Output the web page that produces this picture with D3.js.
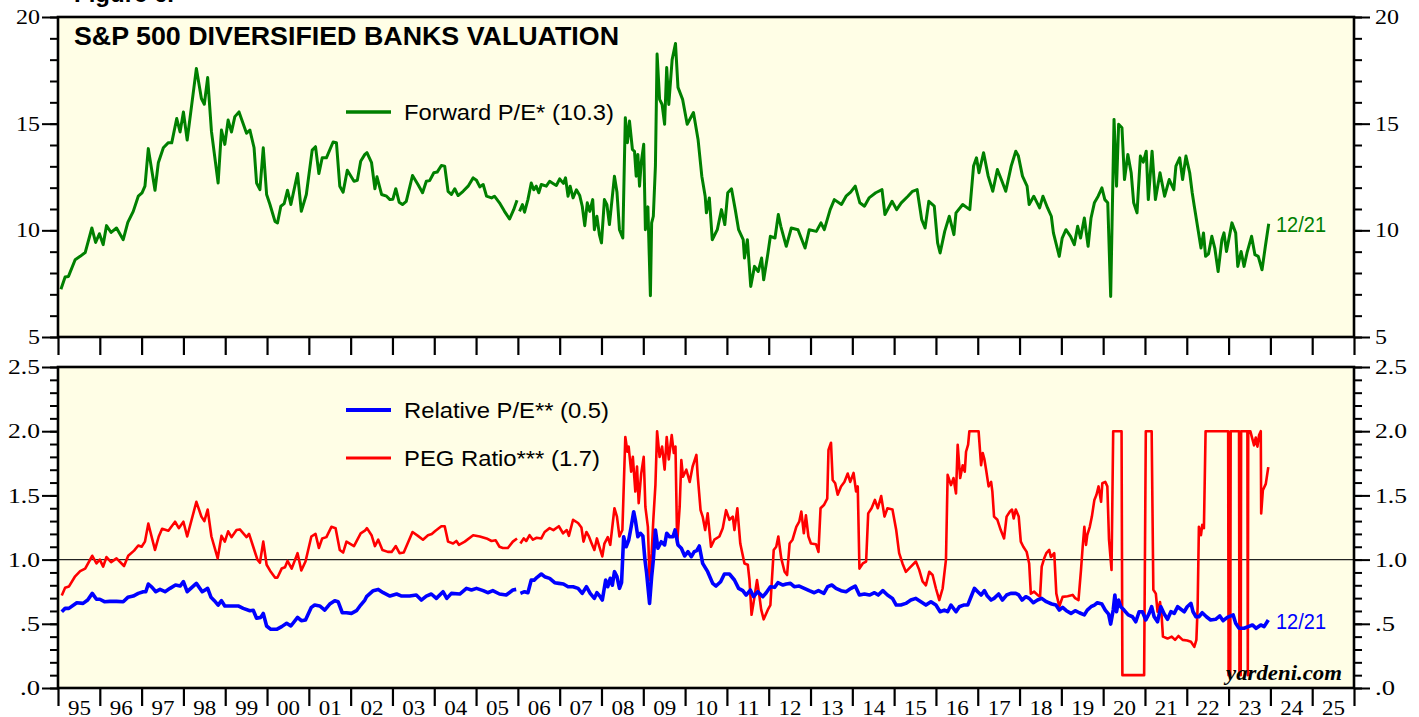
<!DOCTYPE html>
<html>
<head>
<meta charset="utf-8">
<script src="https://d3js.org/d3.v7.min.js"></script>
<style>
  body { margin: 0; background: #fff; }
  svg { display: block; }
</style>
</head>
<body>
<div id="chart"></div>
<script>
// values: [decimal year, value]; null marks the gap in early 2006
var forwardPE = [[1995.07,7.24],[1995.17,7.81],[1995.25,7.84],[1995.41,8.62],[1995.53,8.78],[1995.65,8.96],[1995.81,10.11],[1995.90,9.43],[1995.99,9.84],[1996.08,9.33],[1996.16,10.22],[1996.27,9.90],[1996.40,10.11],[1996.56,9.56],[1996.67,10.37],[1996.80,10.89],[1996.92,11.60],[1997.01,11.76],[1997.08,12.07],[1997.16,13.83],[1997.32,11.88],[1997.40,13.17],[1997.52,13.87],[1997.64,14.11],[1997.72,14.10],[1997.84,15.24],[1997.92,14.61],[1998.00,15.55],[1998.09,14.23],[1998.31,17.59],[1998.43,16.18],[1998.50,15.91],[1998.58,17.16],[1998.67,14.65],[1998.83,12.22],[1998.91,14.70],[1998.99,14.03],[1999.07,15.17],[1999.15,14.61],[1999.23,15.33],[1999.33,15.55],[1999.51,14.55],[1999.59,14.70],[1999.69,13.87],[1999.75,12.22],[1999.83,11.91],[1999.91,13.87],[1999.99,11.68],[2000.07,11.21],[2000.19,10.42],[2000.25,10.35],[2000.33,11.13],[2000.41,11.25],[2000.49,11.88],[2000.57,11.21],[2000.73,12.66],[2000.82,10.89],[2000.94,11.68],[2001.08,13.76],[2001.16,13.92],[2001.24,12.66],[2001.32,13.40],[2001.42,13.40],[2001.58,14.14],[2001.66,14.11],[2001.74,12.07],[2001.82,11.79],[2001.92,12.82],[2002.08,12.30],[2002.16,12.35],[2002.24,13.24],[2002.34,13.56],[2002.39,13.64],[2002.50,13.17],[2002.58,11.95],[2002.63,12.51],[2002.74,11.68],[2002.86,11.60],[2002.94,11.44],[2003.01,11.46],[2003.08,11.95],[2003.16,11.32],[2003.24,11.21],[2003.33,11.36],[2003.48,12.57],[2003.61,12.15],[2003.72,11.76],[2003.81,12.30],[2003.89,12.33],[2003.99,12.70],[2004.07,12.73],[2004.17,13.04],[2004.25,13.01],[2004.33,11.83],[2004.41,11.68],[2004.49,11.95],[2004.57,11.63],[2004.69,11.83],[2004.81,12.07],[2004.93,12.46],[2005.01,12.35],[2005.09,12.04],[2005.17,12.15],[2005.25,11.60],[2005.37,11.52],[2005.44,11.60],[2005.56,11.29],[2005.68,10.89],[2005.80,10.53],[2005.90,10.97],[2005.98,11.41],[2006.01,null],[2006.04,10.89],[2006.11,11.21],[2006.16,10.85],[2006.24,11.44],[2006.32,12.22],[2006.38,11.90],[2006.44,12.07],[2006.50,11.76],[2006.56,12.15],[2006.68,12.07],[2006.76,12.30],[2006.84,12.20],[2006.92,12.10],[2007.00,12.41],[2007.09,12.20],[2007.14,12.46],[2007.20,11.60],[2007.25,12.07],[2007.32,11.52],[2007.40,11.90],[2007.48,11.63],[2007.54,11.13],[2007.60,10.22],[2007.66,11.29],[2007.72,10.89],[2007.79,11.44],[2007.83,10.03],[2007.89,10.66],[2007.95,9.80],[2008.00,9.41],[2008.07,11.44],[2008.13,11.20],[2008.19,10.27],[2008.31,12.54],[2008.37,11.80],[2008.43,10.03],[2008.51,9.64],[2008.57,15.28],[2008.62,14.11],[2008.67,15.12],[2008.74,13.79],[2008.79,13.70],[2008.83,12.54],[2008.87,13.56],[2008.91,12.07],[2008.95,13.17],[2009.01,14.03],[2009.05,10.03],[2009.11,11.10],[2009.17,6.93],[2009.20,10.35],[2009.24,10.66],[2009.29,13.01],[2009.33,18.26],[2009.39,16.14],[2009.45,15.90],[2009.51,14.97],[2009.56,17.63],[2009.61,15.90],[2009.69,18.00],[2009.77,18.76],[2009.83,16.70],[2009.94,16.14],[2010.05,14.97],[2010.20,15.52],[2010.31,14.26],[2010.40,12.54],[2010.48,11.60],[2010.51,10.82],[2010.58,11.52],[2010.65,9.56],[2010.77,10.03],[2010.87,10.97],[2010.95,10.27],[2011.02,11.76],[2011.11,11.95],[2011.20,10.97],[2011.28,10.03],[2011.39,9.56],[2011.42,8.70],[2011.49,9.56],[2011.57,7.37],[2011.66,8.31],[2011.75,8.07],[2011.83,8.70],[2011.88,7.68],[2011.97,8.78],[2012.04,9.72],[2012.15,9.64],[2012.23,10.74],[2012.29,10.19],[2012.42,9.25],[2012.54,10.11],[2012.70,10.03],[2012.87,9.17],[2012.97,10.03],[2013.14,9.95],[2013.25,10.35],[2013.33,10.03],[2013.47,10.97],[2013.57,11.44],[2013.74,11.21],[2013.85,11.60],[2013.96,11.79],[2014.07,12.07],[2014.18,11.29],[2014.29,11.13],[2014.40,11.52],[2014.56,11.76],[2014.71,11.91],[2014.78,10.74],[2014.95,11.36],[2015.06,10.97],[2015.17,11.29],[2015.33,11.60],[2015.44,11.83],[2015.55,11.91],[2015.66,10.50],[2015.74,10.11],[2015.83,11.36],[2015.96,11.13],[2016.04,9.41],[2016.10,8.94],[2016.21,9.95],[2016.32,10.66],[2016.43,9.80],[2016.48,10.82],[2016.64,11.21],[2016.81,10.97],[2016.90,13.01],[2016.97,13.40],[2017.03,12.70],[2017.14,13.64],[2017.25,12.54],[2017.36,11.83],[2017.47,12.85],[2017.58,12.30],[2017.67,11.83],[2017.80,13.01],[2017.91,13.71],[2017.97,13.50],[2018.07,12.54],[2018.18,12.07],[2018.23,11.21],[2018.34,11.60],[2018.48,11.05],[2018.56,11.60],[2018.67,11.05],[2018.76,10.66],[2018.81,9.88],[2018.95,8.78],[2019.02,9.64],[2019.11,10.03],[2019.22,9.72],[2019.31,9.33],[2019.39,10.19],[2019.46,9.64],[2019.55,10.58],[2019.64,9.25],[2019.71,10.58],[2019.79,11.29],[2019.88,11.60],[2019.97,11.99],[2020.04,11.44],[2020.11,11.29],[2020.18,6.90],[2020.26,15.20],[2020.32,12.07],[2020.37,14.97],[2020.45,14.81],[2020.51,12.38],[2020.59,13.56],[2020.67,12.70],[2020.73,11.29],[2020.81,10.82],[2020.89,13.48],[2020.96,13.20],[2021.03,13.71],[2021.08,11.44],[2021.17,13.71],[2021.25,11.44],[2021.36,12.70],[2021.47,11.60],[2021.58,12.38],[2021.69,11.91],[2021.74,13.01],[2021.83,13.40],[2021.90,12.38],[2021.98,13.48],[2022.07,12.70],[2022.13,11.76],[2022.18,11.13],[2022.27,10.03],[2022.34,9.17],[2022.40,9.88],[2022.45,8.78],[2022.52,8.90],[2022.60,9.72],[2022.67,9.17],[2022.75,8.07],[2022.84,9.56],[2022.89,9.88],[2022.95,9.01],[2023.08,10.35],[2023.17,9.88],[2023.22,8.31],[2023.30,9.01],[2023.37,8.31],[2023.44,8.94],[2023.55,9.72],[2023.63,8.86],[2023.71,8.78],[2023.80,8.15],[2023.88,9.25],[2023.96,10.31]];

var relativePE = [[1995.09,0.594],[1995.17,0.62],[1995.26,0.62],[1995.45,0.664],[1995.60,0.659],[1995.71,0.685],[1995.82,0.737],[1995.92,0.691],[1996.00,0.691],[1996.11,0.672],[1996.24,0.675],[1996.40,0.675],[1996.56,0.672],[1996.67,0.706],[1996.80,0.716],[1996.92,0.737],[1997.04,0.75],[1997.10,0.75],[1997.16,0.81],[1997.25,0.784],[1997.34,0.75],[1997.44,0.768],[1997.56,0.75],[1997.68,0.776],[1997.81,0.802],[1997.92,0.794],[1998.00,0.828],[1998.09,0.75],[1998.31,0.815],[1998.45,0.75],[1998.58,0.776],[1998.66,0.706],[1998.74,0.68],[1998.83,0.646],[1998.91,0.68],[1998.99,0.639],[1999.15,0.639],[1999.31,0.639],[1999.43,0.62],[1999.59,0.602],[1999.67,0.605],[1999.75,0.543],[1999.85,0.55],[1999.91,0.581],[1999.99,0.483],[2000.09,0.457],[2000.23,0.457],[2000.35,0.478],[2000.47,0.504],[2000.57,0.483],[2000.73,0.55],[2000.82,0.524],[2000.92,0.53],[2001.06,0.628],[2001.14,0.646],[2001.26,0.639],[2001.38,0.607],[2001.50,0.654],[2001.62,0.68],[2001.70,0.672],[2001.80,0.586],[2001.90,0.586],[2002.02,0.581],[2002.14,0.602],[2002.24,0.646],[2002.34,0.685],[2002.38,0.711],[2002.54,0.758],[2002.66,0.768],[2002.78,0.742],[2002.94,0.716],[2003.10,0.732],[2003.22,0.716],[2003.41,0.716],[2003.57,0.724],[2003.69,0.685],[2003.81,0.716],[2003.93,0.732],[2004.05,0.698],[2004.21,0.75],[2004.30,0.698],[2004.41,0.737],[2004.61,0.732],[2004.77,0.776],[2004.89,0.763],[2005.01,0.776],[2005.17,0.758],[2005.28,0.742],[2005.40,0.758],[2005.56,0.732],[2005.72,0.724],[2005.88,0.763],[2005.96,0.768],[2006.01,null],[2006.06,0.737],[2006.16,0.75],[2006.24,0.742],[2006.32,0.841],[2006.39,0.84],[2006.46,0.862],[2006.56,0.888],[2006.64,0.867],[2006.76,0.854],[2006.88,0.82],[2006.98,0.815],[2007.09,0.81],[2007.20,0.789],[2007.32,0.789],[2007.44,0.776],[2007.54,0.737],[2007.64,0.789],[2007.73,0.737],[2007.83,0.698],[2007.89,0.742],[2007.97,0.711],[2008.02,0.685],[2008.10,0.841],[2008.15,0.789],[2008.21,0.854],[2008.26,0.80],[2008.31,0.906],[2008.37,0.867],[2008.43,0.776],[2008.48,0.82],[2008.53,1.178],[2008.59,1.10],[2008.65,1.15],[2008.71,1.256],[2008.77,1.373],[2008.81,1.308],[2008.87,1.178],[2008.93,1.205],[2008.99,1.184],[2009.04,0.997],[2009.08,0.893],[2009.15,0.659],[2009.20,0.867],[2009.24,0.997],[2009.29,1.231],[2009.35,1.088],[2009.43,1.139],[2009.51,1.114],[2009.56,1.205],[2009.63,1.178],[2009.71,1.178],[2009.76,1.231],[2009.83,1.114],[2009.91,1.088],[2009.99,1.028],[2010.07,1.062],[2010.15,1.023],[2010.22,1.062],[2010.28,1.07],[2010.34,1.106],[2010.42,0.971],[2010.54,0.906],[2010.66,0.815],[2010.74,0.794],[2010.85,0.828],[2010.94,0.888],[2011.06,0.888],[2011.18,0.841],[2011.28,0.776],[2011.38,0.758],[2011.46,0.724],[2011.56,0.763],[2011.64,0.711],[2011.74,0.75],[2011.86,0.711],[2011.94,0.742],[2012.04,0.789],[2012.14,0.784],[2012.22,0.82],[2012.34,0.802],[2012.42,0.81],[2012.52,0.815],[2012.61,0.789],[2012.73,0.794],[2012.85,0.776],[2012.97,0.758],[2013.09,0.742],[2013.19,0.758],[2013.32,0.737],[2013.41,0.789],[2013.51,0.802],[2013.61,0.776],[2013.73,0.758],[2013.85,0.75],[2013.97,0.776],[2014.07,0.794],[2014.17,0.724],[2014.29,0.732],[2014.41,0.724],[2014.53,0.742],[2014.62,0.724],[2014.73,0.758],[2014.84,0.724],[2014.96,0.698],[2015.05,0.646],[2015.16,0.646],[2015.28,0.659],[2015.40,0.685],[2015.52,0.698],[2015.64,0.672],[2015.76,0.646],[2015.88,0.672],[2016.00,0.646],[2016.10,0.594],[2016.20,0.607],[2016.28,0.594],[2016.36,0.646],[2016.48,0.594],[2016.56,0.633],[2016.66,0.646],[2016.76,0.646],[2016.84,0.711],[2016.92,0.776],[2017.00,0.75],[2017.08,0.724],[2017.16,0.758],[2017.23,0.716],[2017.32,0.685],[2017.39,0.698],[2017.50,0.732],[2017.59,0.685],[2017.69,0.724],[2017.79,0.737],[2017.91,0.737],[2017.98,0.725],[2018.06,0.685],[2018.15,0.711],[2018.23,0.698],[2018.33,0.664],[2018.43,0.685],[2018.53,0.698],[2018.64,0.672],[2018.77,0.654],[2018.87,0.646],[2018.95,0.607],[2019.03,0.628],[2019.12,0.602],[2019.23,0.581],[2019.33,0.602],[2019.43,0.586],[2019.55,0.569],[2019.62,0.607],[2019.71,0.633],[2019.79,0.646],[2019.86,0.664],[2019.97,0.654],[2020.05,0.607],[2020.13,0.576],[2020.18,0.498],[2020.24,0.607],[2020.28,0.724],[2020.32,0.594],[2020.37,0.685],[2020.42,0.633],[2020.50,0.607],[2020.60,0.569],[2020.70,0.555],[2020.78,0.516],[2020.86,0.594],[2020.94,0.594],[2021.02,0.53],[2021.10,0.581],[2021.16,0.633],[2021.22,0.555],[2021.30,0.516],[2021.38,0.633],[2021.46,0.576],[2021.54,0.535],[2021.62,0.594],[2021.70,0.581],[2021.78,0.633],[2021.86,0.613],[2021.94,0.594],[2022.01,0.633],[2022.10,0.659],[2022.15,0.594],[2022.22,0.555],[2022.29,0.555],[2022.37,0.586],[2022.47,0.555],[2022.57,0.53],[2022.69,0.535],[2022.79,0.561],[2022.87,0.524],[2022.97,0.55],[2023.11,0.569],[2023.17,0.504],[2023.25,0.465],[2023.37,0.465],[2023.47,0.478],[2023.57,0.491],[2023.66,0.465],[2023.77,0.491],[2023.85,0.478],[2023.95,0.53]];

var pegRatio = [[1995.09,0.72],[1995.17,0.78],[1995.26,0.79],[1995.41,0.87],[1995.53,0.91],[1995.65,0.93],[1995.82,1.03],[1995.92,0.97],[1996.00,1.00],[1996.08,0.945],[1996.16,1.02],[1996.27,0.98],[1996.40,1.01],[1996.58,0.95],[1996.68,1.03],[1996.82,1.07],[1996.92,1.11],[1997.00,1.10],[1997.08,1.14],[1997.16,1.28],[1997.32,1.075],[1997.41,1.18],[1997.49,1.24],[1997.64,1.225],[1997.80,1.295],[1997.89,1.245],[1998.00,1.295],[1998.09,1.18],[1998.31,1.45],[1998.43,1.335],[1998.50,1.30],[1998.58,1.39],[1998.67,1.18],[1998.82,1.01],[1998.91,1.185],[1998.99,1.14],[1999.07,1.22],[1999.15,1.175],[1999.27,1.23],[1999.35,1.235],[1999.51,1.175],[1999.57,1.20],[1999.67,1.10],[1999.77,1.00],[1999.83,0.975],[1999.91,1.14],[1999.99,0.96],[2000.09,0.905],[2000.19,0.86],[2000.25,0.86],[2000.35,0.93],[2000.43,0.94],[2000.49,0.99],[2000.59,0.93],[2000.73,1.05],[2000.82,0.915],[2000.92,0.985],[2001.06,1.18],[2001.16,1.20],[2001.24,1.09],[2001.32,1.165],[2001.42,1.175],[2001.54,1.255],[2001.64,1.245],[2001.74,1.075],[2001.82,1.055],[2001.90,1.14],[2002.08,1.105],[2002.24,1.205],[2002.34,1.225],[2002.39,1.245],[2002.50,1.19],[2002.58,1.105],[2002.66,1.155],[2002.76,1.075],[2002.89,1.06],[2002.98,1.06],[2003.08,1.105],[2003.17,1.05],[2003.27,1.055],[2003.48,1.215],[2003.61,1.185],[2003.73,1.155],[2003.85,1.19],[2003.94,1.20],[2004.03,1.225],[2004.17,1.26],[2004.25,1.26],[2004.33,1.14],[2004.45,1.125],[2004.53,1.145],[2004.59,1.115],[2004.73,1.14],[2004.93,1.19],[2005.09,1.18],[2005.25,1.165],[2005.37,1.145],[2005.47,1.15],[2005.56,1.10],[2005.64,1.09],[2005.76,1.09],[2005.88,1.14],[2005.98,1.165],[2006.01,null],[2006.06,1.125],[2006.14,1.165],[2006.20,1.145],[2006.28,1.19],[2006.36,1.155],[2006.45,1.17],[2006.56,1.165],[2006.64,1.215],[2006.76,1.245],[2006.85,1.23],[2006.98,1.26],[2007.08,1.205],[2007.17,1.23],[2007.22,1.185],[2007.32,1.31],[2007.44,1.285],[2007.52,1.25],[2007.57,1.14],[2007.64,1.215],[2007.70,1.18],[2007.76,1.13],[2007.83,1.075],[2007.89,1.165],[2007.95,1.10],[2008.02,1.025],[2008.07,1.125],[2008.15,1.175],[2008.21,1.115],[2008.31,1.40],[2008.37,1.335],[2008.43,1.18],[2008.50,1.23],[2008.57,1.955],[2008.62,1.84],[2008.65,1.88],[2008.71,1.685],[2008.75,1.80],[2008.81,1.53],[2008.85,1.725],[2008.89,1.44],[2008.95,1.67],[2009.01,1.80],[2009.05,1.41],[2009.11,1.255],[2009.15,0.84],[2009.20,1.05],[2009.24,1.31],[2009.29,1.58],[2009.33,2.00],[2009.39,1.80],[2009.45,1.88],[2009.51,1.70],[2009.56,1.955],[2009.61,1.78],[2009.68,1.97],[2009.73,1.83],[2009.77,1.88],[2009.81,1.125],[2009.87,1.41],[2009.91,1.775],[2009.95,1.645],[2010.03,1.70],[2010.11,1.605],[2010.18,1.725],[2010.27,1.815],[2010.30,1.66],[2010.37,1.385],[2010.42,1.335],[2010.48,1.23],[2010.54,1.36],[2010.62,1.10],[2010.70,1.155],[2010.82,1.18],[2010.90,1.245],[2010.98,1.385],[2011.06,1.31],[2011.14,1.335],[2011.18,1.23],[2011.25,1.40],[2011.32,1.125],[2011.42,0.97],[2011.50,0.96],[2011.54,0.84],[2011.59,0.57],[2011.66,0.71],[2011.72,0.84],[2011.78,0.71],[2011.82,0.61],[2011.88,0.535],[2011.98,0.61],[2012.04,0.645],[2012.12,1.075],[2012.18,1.10],[2012.23,1.18],[2012.30,1.01],[2012.38,0.905],[2012.44,0.88],[2012.50,1.125],[2012.57,1.155],[2012.66,1.255],[2012.73,1.295],[2012.78,1.375],[2012.84,1.205],[2012.89,1.345],[2012.95,1.18],[2013.01,1.125],[2013.13,1.12],[2013.19,1.06],[2013.24,1.40],[2013.32,1.425],[2013.40,1.475],[2013.43,1.855],[2013.49,1.91],[2013.53,1.62],[2013.59,1.595],[2013.65,1.505],[2013.73,1.57],[2013.81,1.605],[2013.89,1.67],[2013.95,1.605],[2014.03,1.675],[2014.09,1.53],[2014.13,1.57],[2014.17,0.93],[2014.25,0.97],[2014.33,0.985],[2014.38,1.36],[2014.46,1.40],[2014.54,1.465],[2014.61,1.40],[2014.69,1.495],[2014.77,1.335],[2014.84,1.40],[2014.96,1.39],[2015.05,1.23],[2015.12,1.05],[2015.20,0.97],[2015.28,0.905],[2015.40,0.945],[2015.52,0.985],[2015.60,0.92],[2015.68,0.83],[2015.76,0.80],[2015.84,0.905],[2015.92,0.88],[2016.00,0.775],[2016.08,0.685],[2016.16,0.775],[2016.24,1.00],[2016.28,1.66],[2016.36,1.58],[2016.42,1.635],[2016.48,1.515],[2016.52,1.895],[2016.58,1.635],[2016.64,1.735],[2016.69,1.685],[2016.72,1.84],[2016.77,1.895],[2016.80,2.00],[2017.02,2.00],[2017.08,1.735],[2017.12,1.83],[2017.16,1.78],[2017.20,1.70],[2017.26,1.57],[2017.32,1.605],[2017.35,1.53],[2017.39,1.335],[2017.47,1.31],[2017.55,1.23],[2017.63,1.165],[2017.69,1.335],[2017.77,1.375],[2017.82,1.39],[2017.86,1.32],[2017.91,1.39],[2017.98,1.335],[2018.03,1.14],[2018.09,1.10],[2018.17,1.06],[2018.23,0.97],[2018.27,0.735],[2018.35,0.75],[2018.43,0.725],[2018.49,0.71],[2018.53,0.945],[2018.59,1.01],[2018.64,1.05],[2018.71,1.075],[2018.75,1.02],[2018.83,1.05],[2018.88,0.735],[2018.95,0.635],[2019.03,0.71],[2019.15,0.715],[2019.27,0.725],[2019.33,0.70],[2019.41,0.685],[2019.47,0.92],[2019.51,1.10],[2019.55,1.255],[2019.59,1.115],[2019.62,1.19],[2019.68,1.255],[2019.73,1.335],[2019.79,1.465],[2019.84,1.505],[2019.89,1.57],[2019.95,1.45],[2019.98,1.595],[2020.05,1.605],[2020.10,1.57],[2020.14,1.155],[2020.20,0.92],[2020.24,2.00],[2020.44,2.00],[2020.46,0.10],[2020.98,0.10],[2021.02,2.00],[2021.16,2.00],[2021.20,0.765],[2021.26,0.735],[2021.30,0.595],[2021.36,0.67],[2021.40,0.555],[2021.43,0.40],[2021.54,0.385],[2021.64,0.40],[2021.72,0.375],[2021.80,0.405],[2021.90,0.375],[2022.01,0.37],[2022.10,0.36],[2022.18,0.32],[2022.23,0.375],[2022.26,0.635],[2022.29,1.255],[2022.34,1.19],[2022.37,1.27],[2022.41,1.245],[2022.45,2.00],[2022.99,2.00],[2023.00,0.10],[2023.04,0.10],[2023.05,2.00],[2023.25,2.00],[2023.26,0.10],[2023.29,0.10],[2023.30,2.00],[2023.45,2.00],[2023.46,0.10],[2023.47,2.00],[2023.52,2.00],[2023.61,1.89],[2023.65,1.95],[2023.69,1.88],[2023.73,1.97],[2023.77,2.00],[2023.78,1.36],[2023.82,1.54],[2023.89,1.59],[2023.95,1.72]];

var topTicks = [5, 10, 15, 20];
var topTickLabels = ["5", "10", "15", "20"];
var bottomTicks = [0, 0.5, 1, 1.5, 2, 2.5];
var bottomTickLabels = [".0", ".5", "1.0", "1.5", "2.0", "2.5"];
var firstYear = 1995, lastYear = 2025;
var legendTop = ["Forward P/E* (10.3)"];
var legendBottom = ["Relative P/E** (0.5)", "PEG Ratio*** (1.7)"];
var lastDate = "12/21";

var W = 1419, H = 717;
var left = 58, right = 1354;
var top1 = 17, bot1 = 337, top2 = 367, bot2 = 688;
var bg = "#fffee6";
var serif = "'Liberation Serif', 'Times New Roman', serif";
var sans = "'Liberation Sans', Arial, sans-serif";

var svg = d3.select("#chart").append("svg")
    .attr("width", W)
    .attr("height", H);

var x = d3.scaleLinear().domain([firstYear, lastYear + 1]).range([left, right]);
var yTop = d3.scaleLinear().domain([5, 20]).range([bot1, top1]);
var yBot = d3.scaleLinear().domain([0, 2.5]).range([bot2, top2]);

// width of a tick label in the reference's stretched serif
function labelWidth(s) {
    var w = 0;
    for (var i = 0; i < s.length; i++) w += (s[i] === "." ? 8 : 12);
    return w;
}

// cut-off figure caption at the very top
svg.append("text")
    .attr("x", 74).attr("y", 2)
    .attr("font-family", sans).attr("font-weight", "bold").attr("font-size", 24)
    .text("Figure 6.");

// panel backgrounds
svg.append("rect").attr("x", left).attr("y", top1)
    .attr("width", right - left).attr("height", bot1 - top1).attr("fill", bg);
svg.append("rect").attr("x", left).attr("y", top2)
    .attr("width", right - left).attr("height", bot2 - top2).attr("fill", bg);

var defs = svg.append("defs");
defs.append("clipPath").attr("id", "clipTop").append("rect")
    .attr("x", left).attr("y", top1).attr("width", right - left).attr("height", bot1 - top1);
defs.append("clipPath").attr("id", "clipBot").append("rect")
    .attr("x", left).attr("y", top2).attr("width", right - left).attr("height", bot2 - top2);

function styleAxis(g, labels, anchor) {
    g.select(".domain").remove();
    g.selectAll("line").attr("stroke", "#000").attr("stroke-width", 2);
    g.attr("font-family", serif).attr("font-size", 20);
    g.selectAll("text")
        .attr("fill", "#000")
        .attr("dy", "0.33em")
        .attr("text-anchor", anchor)
        .attr("lengthAdjust", "spacingAndGlyphs")
        .attr("textLength", function(d, i) { return labelWidth(labels[i]); });
}

function yAxes(scale, ticks, labels, minorTicks) {
    var gL = svg.append("g").attr("transform", "translate(" + left + ",0)");
    gL.call(d3.axisLeft(scale).tickValues(minorTicks).tickSize(8).tickSizeOuter(0).tickFormat(""));
    gL.select(".domain").remove();
    gL.selectAll("line").attr("stroke", "#000").attr("stroke-width", 2);

    var gL2 = svg.append("g").attr("transform", "translate(" + left + ",0)");
    gL2.call(d3.axisLeft(scale).tickValues(ticks).tickSize(16).tickSizeOuter(0).tickPadding(2)
        .tickFormat(function(d, i) { return labels[i]; }));
    styleAxis(gL2, labels, "end");

    var gR = svg.append("g").attr("transform", "translate(" + right + ",0)");
    gR.call(d3.axisRight(scale).tickValues(minorTicks).tickSize(8).tickSizeOuter(0).tickFormat(""));
    gR.select(".domain").remove();
    gR.selectAll("line").attr("stroke", "#000").attr("stroke-width", 2);

    var gR2 = svg.append("g").attr("transform", "translate(" + right + ",0)");
    gR2.call(d3.axisRight(scale).tickValues(ticks).tickSize(16).tickSizeOuter(0).tickPadding(5)
        .tickFormat(function(d, i) { return labels[i]; }));
    styleAxis(gR2, labels, "start");
}

yAxes(yTop, topTicks, topTickLabels, d3.range(5, 21, 1));
yAxes(yBot, bottomTicks, bottomTickLabels, d3.range(0, 26, 1).map(function(d) { return d / 10; }));

// year boundary ticks under both panels
var yearEdges = d3.range(firstYear, lastYear + 2);
[bot1, bot2].forEach(function(yy) {
    var g = svg.append("g").attr("transform", "translate(0," + yy + ")");
    g.call(d3.axisBottom(x).tickValues(yearEdges).tickSize(18).tickSizeOuter(0).tickFormat(""));
    g.select(".domain").remove();
    g.selectAll("line").attr("stroke", "#000").attr("stroke-width", 2.2);
});

// year labels centred in each year
var yearMids = d3.range(firstYear, lastYear + 1).map(function(d) { return d + 0.5; });
var gYears = svg.append("g").attr("transform", "translate(0," + bot2 + ")");
gYears.call(d3.axisBottom(x).tickValues(yearMids).tickSize(0).tickPadding(13)
    .tickFormat(function(d) { return String(Math.floor(d) % 100).padStart(2, "0"); }));
gYears.select(".domain").remove();
gYears.attr("font-family", serif).attr("font-size", 20);
gYears.selectAll("text").attr("fill", "#000")
    .attr("lengthAdjust", "spacingAndGlyphs").attr("textLength", 23);

// reference line at 1.0
svg.append("line")
    .attr("x1", left).attr("x2", right)
    .attr("y1", yBot(1)).attr("y2", yBot(1))
    .attr("stroke", "#222").attr("stroke-width", 1.4);

function drawLine(data, yScale, clip, color, width) {
    var line = d3.line()
        .defined(function(d) { return d[1] != null; })
        .x(function(d) { return x(d[0]); })
        .y(function(d) { return yScale(d[1]); });
    svg.append("path")
        .datum(data)
        .attr("clip-path", "url(#" + clip + ")")
        .attr("fill", "none")
        .attr("stroke", color)
        .attr("stroke-width", width)
        .attr("stroke-linejoin", "round")
        .attr("d", line);
}

drawLine(forwardPE, yTop, "clipTop", "#008000", 3);
drawLine(pegRatio, yBot, "clipBot", "#ff0000", 2.6);
drawLine(relativePE, yBot, "clipBot", "#0000ff", 3.6);

// panel frames
svg.append("rect").attr("x", left).attr("y", top1)
    .attr("width", right - left).attr("height", bot1 - top1)
    .attr("fill", "none").attr("stroke", "#000").attr("stroke-width", 2.6);
svg.append("rect").attr("x", left).attr("y", top2)
    .attr("width", right - left).attr("height", bot2 - top2)
    .attr("fill", "none").attr("stroke", "#000").attr("stroke-width", 2.6);

// title
svg.append("text")
    .attr("x", 74).attr("y", 45)
    .attr("font-family", sans).attr("font-weight", "bold").attr("font-size", 25)
    .attr("lengthAdjust", "spacingAndGlyphs").attr("textLength", 545)
    .text("S&P 500 DIVERSIFIED BANKS VALUATION");

// legends
function legendItem(yy, color, width, label, len) {
    svg.append("line").attr("x1", 346).attr("x2", 391).attr("y1", yy).attr("y2", yy)
        .attr("stroke", color).attr("stroke-width", width);
    svg.append("text").attr("x", 404).attr("y", yy + 8)
        .attr("font-family", sans).attr("font-size", 22).attr("fill", "#000")
        .attr("lengthAdjust", "spacingAndGlyphs").attr("textLength", len)
        .text(label);
}
legendItem(112, "#008000", 3.5, legendTop[0], 210);
legendItem(410, "#0000ff", 4, legendBottom[0], 205);
legendItem(458, "#ff0000", 3, legendBottom[1], 196);

// end-date labels
svg.append("text").attr("x", 1276).attr("y", 231.5)
    .attr("font-family", sans).attr("font-size", 22).attr("fill", "#008000")
    .attr("lengthAdjust", "spacingAndGlyphs").attr("textLength", 50)
    .text(lastDate);
svg.append("text").attr("x", 1276).attr("y", 629)
    .attr("font-family", sans).attr("font-size", 22).attr("fill", "#0000ff")
    .attr("lengthAdjust", "spacingAndGlyphs").attr("textLength", 50)
    .text(lastDate);

// source
svg.append("text").attr("x", 1226).attr("y", 680)
    .attr("font-family", serif).attr("font-weight", "bold").attr("font-style", "italic")
    .attr("font-size", 22).attr("fill", "#000")
    .attr("lengthAdjust", "spacingAndGlyphs").attr("textLength", 116)
    .text("yardeni.com");
</script>
</body>
</html>
